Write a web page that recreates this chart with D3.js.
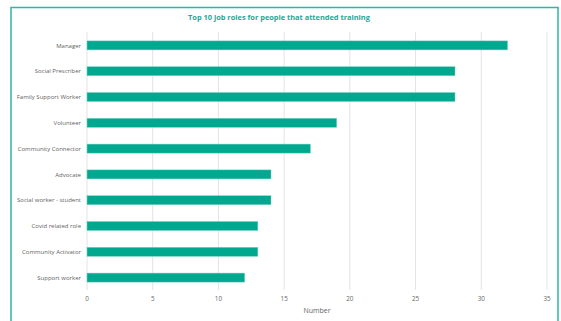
<!DOCTYPE html>
<html>
<head>
<meta charset="utf-8">
<script src="https://cdn.jsdelivr.net/npm/d3@7"></script>
<style>
  body { margin: 0; background: #fff; }
  text { font-family: "Open Sans", "Noto Sans", sans-serif; }
</style>
</head>
<body>
<script>
var w = 561;
var h = 321;

// job roles, top to bottom
var roles = ["Manager", "Social Prescriber", "Family Support Worker", "Volunteer",
  "Community Connector", "Advocate", "Social worker - student", "Covid related role",
  "Community Activator", "Support worker"];
var counts = [32, 28, 28, 19, 17, 14, 14, 13, 13, 12];
var xTicks = [0, 5, 10, 15, 20, 25, 30, 35];

var teal = "#00a88f";

var svg = d3.select("body")
  .append("svg")
  .attr("width", w)
  .attr("height", h);

// frame
svg.append("rect")
  .attr("x", 11)
  .attr("y", 7.5)
  .attr("width", 547)
  .attr("height", 330)
  .attr("fill", "none")
  .attr("stroke", "#2bb7a5")
  .attr("stroke-width", 1.5);

svg.append("text")
  .attr("x", 279)
  .attr("y", 20)
  .attr("text-anchor", "middle")
  .attr("font-size", 7.4)
  .attr("font-weight", "bold")
  .attr("fill", "#1aa996")
  .text("Top 10 job roles for people that attended training");

var x = d3.scaleLinear().domain([0, 35]).range([87, 547]);
var y = d3.scaleBand().domain(roles).range([32.5, 290.5]).paddingInner(0.65).paddingOuter(0.325);

// grid
svg.selectAll("line.grid")
  .data(xTicks)
  .enter()
  .append("line")
  .attr("class", "grid")
  .attr("x1", function (d) { return x(d); })
  .attr("x2", function (d) { return x(d); })
  .attr("y1", 32)
  .attr("y2", 290)
  .attr("stroke", "#e3e3e3")
  .attr("stroke-width", 1);

svg.selectAll("rect.bar")
  .data(roles)
  .enter()
  .append("rect")
  .attr("class", "bar")
  .attr("x", x(0))
  .attr("y", function (d) { return y(d); })
  .attr("width", function (d, i) { return x(counts[i]) - x(0); })
  .attr("height", y.bandwidth())
  .attr("fill", teal)
  .attr("stroke", "#7fd3c6")
  .attr("stroke-width", 0.5);

// category labels
svg.selectAll("text.cat")
  .data(roles)
  .enter()
  .append("text")
  .attr("class", "cat")
  .attr("x", 81)
  .attr("y", function (d) { return y(d) + y.bandwidth() / 2; })
  .attr("dy", "0.35em")
  .attr("text-anchor", "end")
  .attr("font-size", 6)
  .attr("fill", "#5f5f5f")
  .text(function (d) { return d; });

// x tick labels
svg.selectAll("text.tick")
  .data(xTicks)
  .enter()
  .append("text")
  .attr("class", "tick")
  .attr("x", function (d) { return x(d); })
  .attr("y", 301)
  .attr("text-anchor", "middle")
  .attr("font-size", 6.3)
  .attr("fill", "#666")
  .text(function (d) { return d; });

svg.append("text")
  .attr("x", 317)
  .attr("y", 313)
  .attr("text-anchor", "middle")
  .attr("font-size", 7)
  .attr("fill", "#666")
  .text("Number");
</script>
</body>
</html>
